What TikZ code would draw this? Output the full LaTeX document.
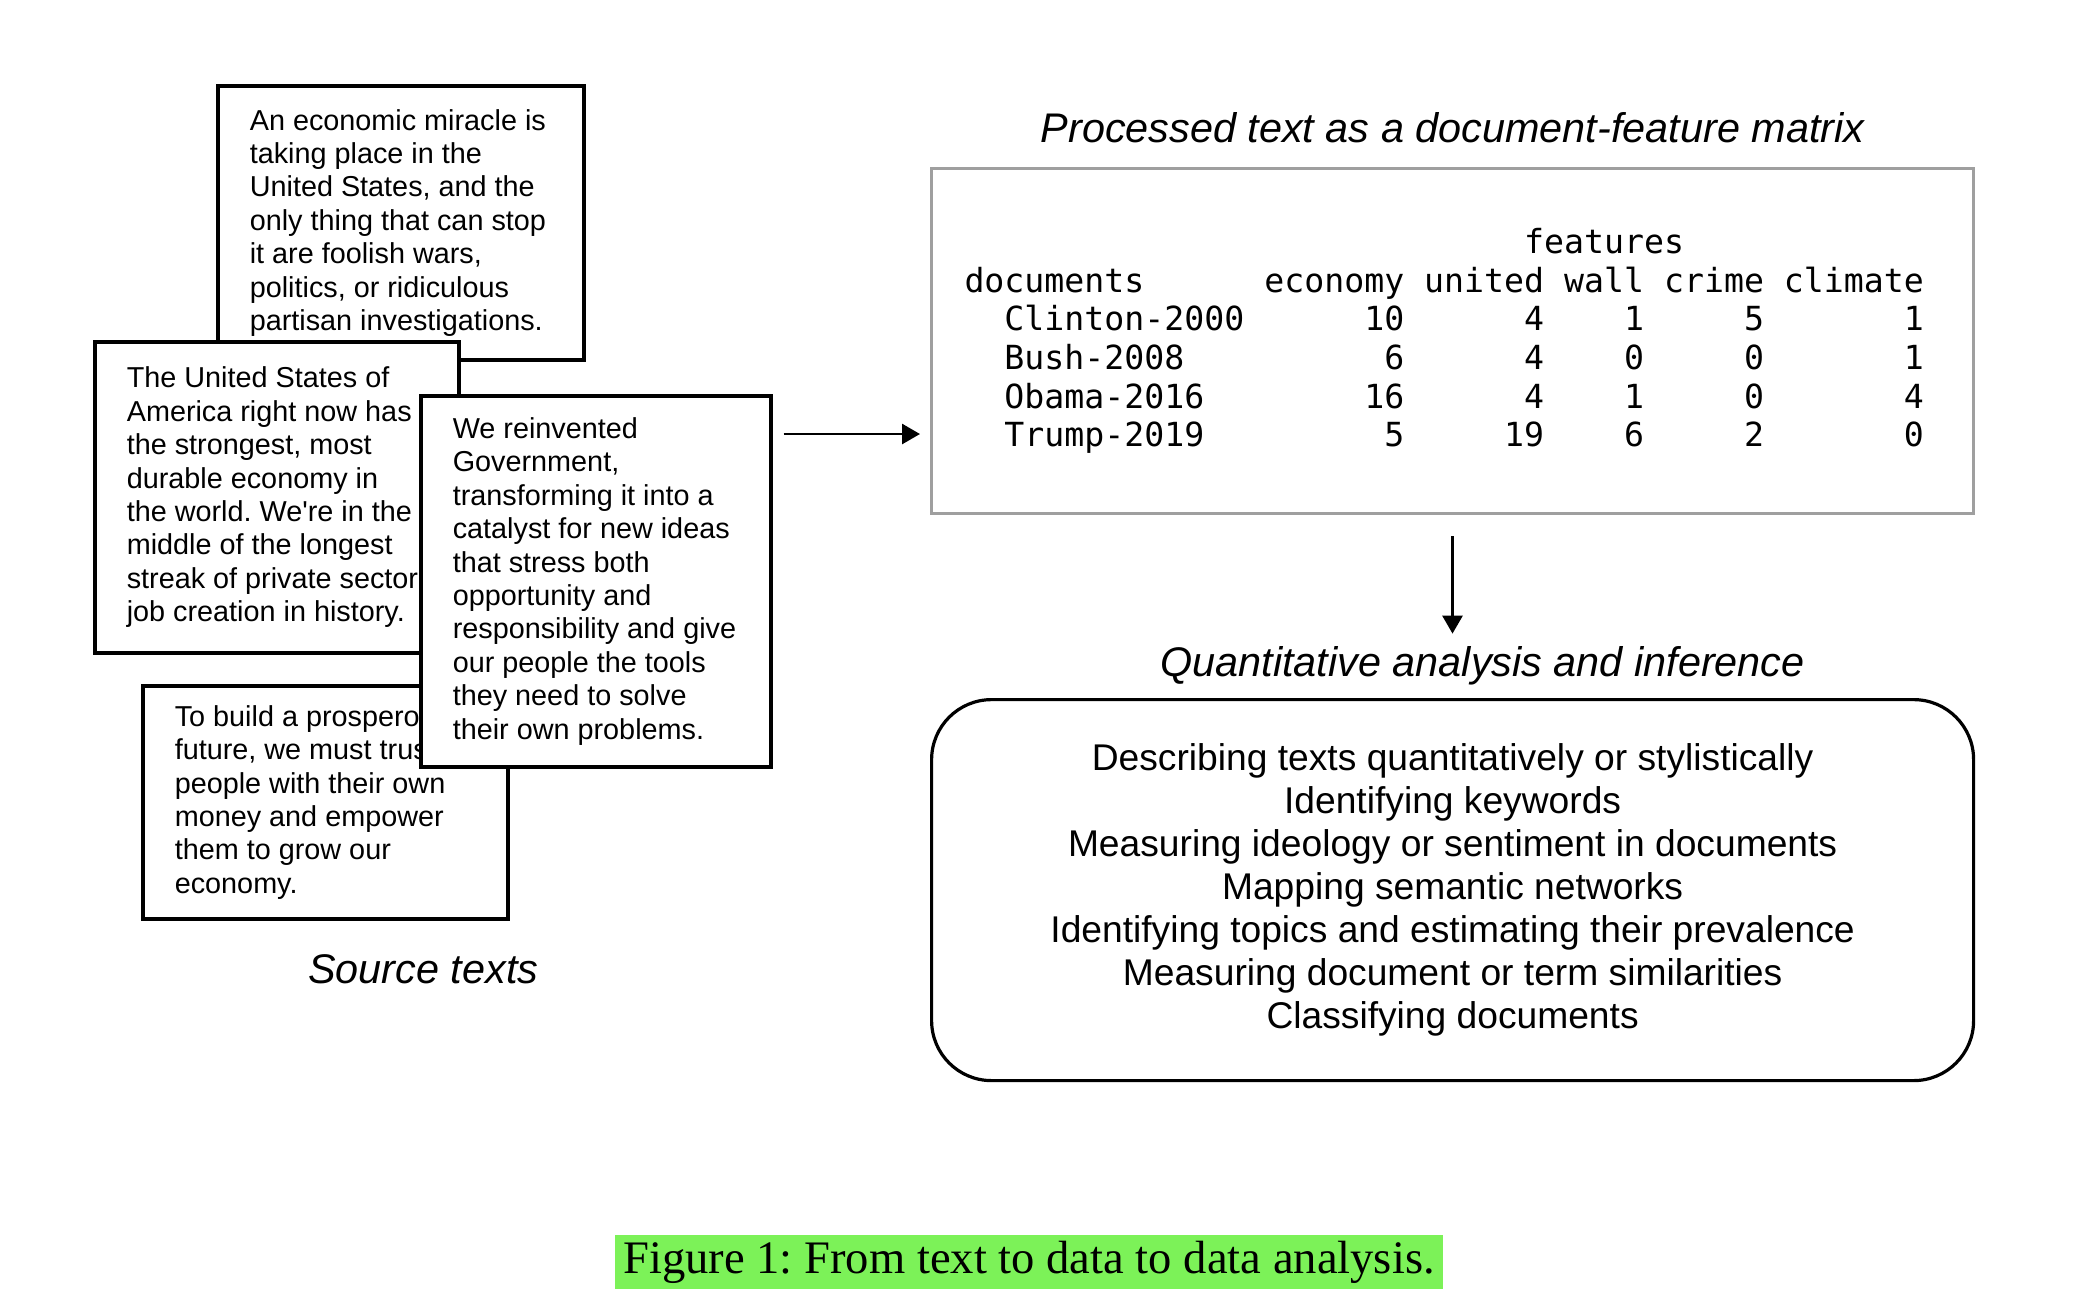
\documentclass[tikz,border=0pt]{standalone}
\usepackage{fontspec}
\setmainfont{Liberation Sans}
\newfontfamily\dfmfont{DejaVu Sans Mono}
\newfontfamily\capfont{Liberation Serif}
\usepackage{tikz}
\usetikzlibrary{arrows.meta, positioning}
\definecolor{hlgreen}{RGB}{124,242,88}
\newcommand{\dfmsp}[1]{\hspace*{#1\fontcharwd\font`0}}
\frenchspacing
\tikzset{
  speech/.style={draw, line width=1.8pt, fill=white, anchor=north west, inner xsep=16pt,
    align=flush left, font=\fontsize{14.4pt}{16.7pt}\selectfont},
  heading/.style={inner sep=0pt, font=\fontsize{20.7pt}{24pt}\selectfont\itshape},
  dfmbox/.style={draw=gray!75, line width=1.5pt, anchor=north west, minimum height=172.5pt,
    inner xsep=16.5pt, text width=488pt, align=flush left,
    font=\dfmfont\fontsize{16.6pt}{19.35pt}\selectfont},
  tasks/.style={draw, line width=1.6pt, rounded corners=30pt, anchor=north west,
    minimum width=521pt, minimum height=190.5pt, align=center,
    font=\fontsize{18.6pt}{21.5pt}\selectfont},
  flow/.style={-{Triangle[length=9pt, width=10pt]}, line width=1.4pt},
}

\begin{document}
\begin{tikzpicture}[x=0.5pt, y=-0.5pt]
  \useasboundingbox (0,0) rectangle (2084,1298);

  % source texts, stacked
  \node[speech, text width=151pt, minimum height=137pt] (trump) at (216,84)
    {An economic miracle is\\ taking place in the\\ United States, and the\\ only thing that can stop\\
     it are foolish wars,\\ politics, or ridiculous\\ partisan investigations.};
  \node[speech, text width=150pt, minimum height=155.5pt] (obama) at (93,340)
    {The United States of\\ America right now has\\ the strongest, most\\ durable economy in\\
     the world. We\textquotesingle re in the\\ middle of the longest\\ streak of private sector\\ job creation in history.};
  \node[speech, text width=150.5pt, minimum height=116.5pt] (bush) at (141,684)
    {To build a prosperous\\ future, we must trust\\ people with their own\\ money and empower\\
     them to grow our\\ economy.};
  \node[speech, text width=143pt, minimum height=185.5pt] (clinton) at (419,394)
    {We reinvented\\ Government,\\ transforming it into a\\ catalyst for new ideas\\ that stress both\\
     opportunity and\\ responsibility and give\\ our people the tools\\ they need to solve\\ their own problems.};
  \node[heading, below=17pt of bush, xshift=49pt] (srclabel) {Source texts};

  % document-feature matrix
  \node[dfmbox] (dfm) at (930,167)
    {\dfmsp{28}features\\
     documents\dfmsp{6}economy united wall crime climate\\
     \dfmsp{2}Clinton-2000\dfmsp{6}10\dfmsp{6}4\dfmsp{4}1\dfmsp{5}5\dfmsp{7}1\\
     \dfmsp{2}Bush-2008\dfmsp{10}6\dfmsp{6}4\dfmsp{4}0\dfmsp{5}0\dfmsp{7}1\\
     \dfmsp{2}Obama-2016\dfmsp{8}16\dfmsp{6}4\dfmsp{4}1\dfmsp{5}0\dfmsp{7}4\\
     \dfmsp{2}Trump-2019\dfmsp{9}5\dfmsp{5}19\dfmsp{4}6\dfmsp{5}2\dfmsp{7}0};
  \node[heading, above=12pt of dfm] (dfmlabel) {Processed text as a document-feature matrix};

  % analysis
  \node[tasks] (analysis) at (930,698)
    {Describing texts quantitatively or stylistically\\ Identifying keywords\\
     Measuring ideology or sentiment in documents\\ Mapping semantic networks\\
     Identifying topics and estimating their prevalence\\ Measuring document or term similarities\\
     Classifying documents};
  \node[heading, above=6.5pt of analysis, xshift=15pt] (qlabel) {Quantitative analysis and inference};

  \draw[flow, shorten <=5.5pt, shorten >=5pt] ([yshift=-20pt]clinton.north east)
    -- ([yshift=-20pt]clinton.north east -| dfm.west);
  \draw[flow, shorten <=10.5pt, shorten >=6pt] (dfm.south) -- (dfm.south |- qlabel.north);

  \node[fill=hlgreen, inner xsep=4pt, inner ysep=3pt, font=\capfont\fontsize{23.3pt}{26pt}\selectfont]
    (caption) at (1029,1262) {Figure 1: From text to data to data analysis.};
\end{tikzpicture}
\end{document}
